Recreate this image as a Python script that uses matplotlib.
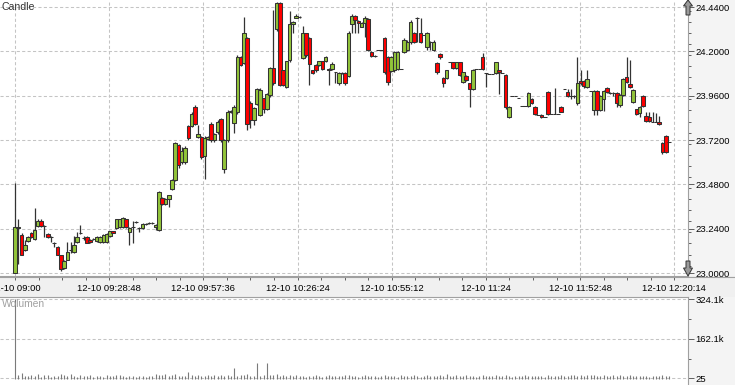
import matplotlib
matplotlib.use("Agg")
import matplotlib.pyplot as plt
import numpy as np
from matplotlib.patches import Polygon, Rectangle
from matplotlib.lines import Line2D
from matplotlib.ticker import FixedLocator, MultipleLocator, FormatStrFormatter

# one-minute candles from 12-10 09:00, open / high / low / close
opens = [
    23.000, 23.245, 23.206, 23.125, 23.173, 23.217, 23.185, 23.255, 23.280, 23.255,
    23.210, 23.195, 23.160, 23.140, 23.100, 23.030, 23.070, 23.125, 23.115, 23.168,
    23.217, 23.190, 23.195, 23.180, 23.185, 23.173, 23.170, 23.168, 23.168, 23.200,
    23.227, 23.245, 23.250, 23.250, 23.290, 23.222, 23.250, 23.275, 23.245, 23.245,
    23.265, 23.270, 23.270, 23.250, 23.233, 23.405, 23.375, 23.400, 23.455, 23.505,
    23.693, 23.600, 23.601, 23.796, 23.796, 23.899, 23.736, 23.736, 23.634, 23.725,
    23.807, 23.720, 23.763, 23.834, 23.563, 23.720, 23.870, 23.812, 23.872, 24.169,
    24.137, 24.272, 23.920, 23.828, 23.915, 23.855, 23.947, 23.888, 23.964, 24.110,
    24.321, 24.462, 24.099, 24.007, 24.153, 24.348, 24.381, 24.386, 24.164, 24.299,
    24.272, 24.099, 24.126, 24.126, 24.148, 24.148, 24.104, 24.104, 24.088, 24.029,
    24.083, 24.083, 24.067, 24.348, 24.391, 24.364, 24.332, 24.354, 24.375, 24.197,
    24.175, 24.207, 24.207, 24.272, 24.169, 24.094, 24.099, 24.104, 24.104, 24.197,
    24.207, 24.251, 24.299, 24.381, 24.299, 24.290, 24.224, 24.251, 24.207, 24.137,
    24.186, 24.056, 24.056, 24.142, 24.142, 24.110, 24.142, 24.034, 24.067, 24.029,
    23.996, 24.104, 24.104, 24.169, 24.083, 24.077, 24.077, 24.083, 24.099, 24.083,
    24.072, 23.845, 23.958, 23.958, 23.947, 23.904, 23.904, 23.904, 23.942, 23.899,
    23.855, 23.855, 23.845, 23.980, 23.861, 23.861, 23.861, 23.899, 23.996, 23.980,
    23.958, 23.958, 23.920, 24.039, 24.039, 24.007, 23.985, 23.882, 23.985, 23.882,
    23.942, 24.002, 23.975, 23.975, 23.975, 23.910, 23.964, 24.061, 24.023, 23.926,
    23.888, 23.866, 23.958, 23.850, 23.845, 23.818, 23.818, 23.818, 23.704, 23.742,
    23.709,
]
highs = [
    23.490, 23.290, 23.215, 23.180, 23.200, 23.220, 23.350, 23.290, 23.290, 23.260,
    23.215, 23.200, 23.170, 23.145, 23.100, 23.070, 23.170, 23.170, 23.200, 23.220,
    23.260, 23.200, 23.200, 23.185, 23.190, 23.200, 23.200, 23.210, 23.215, 23.230,
    23.230, 23.295, 23.295, 23.305, 23.295, 23.250, 23.280, 23.280, 23.250, 23.270,
    23.270, 23.275, 23.275, 23.265, 23.445, 23.410, 23.405, 23.425, 23.510, 23.710,
    23.700, 23.680, 23.690, 23.800, 23.870, 23.910, 23.800, 23.740, 23.740, 23.740,
    23.820, 23.760, 23.830, 23.840, 23.725, 23.880, 23.880, 23.910, 24.180, 24.175,
    24.386, 24.280, 23.930, 23.900, 24.000, 24.000, 23.950, 23.975, 24.115, 24.424,
    24.465, 24.465, 24.100, 24.150, 24.420, 24.365, 24.402, 24.390, 24.337, 24.300,
    24.280, 24.100, 24.130, 24.150, 24.150, 24.175, 24.110, 24.140, 24.090, 24.090,
    24.090, 24.090, 24.310, 24.400, 24.395, 24.370, 24.360, 24.390, 24.380, 24.200,
    24.180, 24.207, 24.207, 24.280, 24.175, 24.175, 24.200, 24.200, 24.104, 24.270,
    24.260, 24.370, 24.305, 24.385, 24.381, 24.290, 24.305, 24.255, 24.260, 24.140,
    24.190, 24.060, 24.100, 24.142, 24.145, 24.145, 24.145, 24.090, 24.070, 24.030,
    24.105, 24.104, 24.104, 24.191, 24.085, 24.077, 24.077, 24.145, 24.100, 24.083,
    24.080, 23.905, 23.958, 23.958, 23.947, 23.904, 23.904, 23.980, 23.945, 23.905,
    23.855, 23.860, 23.845, 23.985, 23.861, 24.002, 23.861, 23.905, 23.996, 23.998,
    23.996, 23.965, 24.169, 24.099, 24.045, 24.099, 23.985, 23.990, 23.990, 23.965,
    23.990, 24.005, 23.980, 23.980, 23.980, 23.970, 24.055, 24.169, 24.153, 23.995,
    23.890, 23.905, 23.965, 23.872, 23.872, 23.872, 23.866, 23.850, 23.710, 23.745,
    23.709,
]
lows = [
    23.000, 23.050, 23.100, 23.120, 23.170, 23.190, 23.180, 23.250, 23.250, 23.195,
    23.190, 23.170, 23.140, 23.100, 23.010, 23.020, 23.070, 23.110, 23.110, 23.165,
    23.210, 23.180, 23.160, 23.165, 23.180, 23.170, 23.165, 23.165, 23.165, 23.195,
    23.215, 23.240, 23.245, 23.245, 23.245, 23.150, 23.165, 23.270, 23.220, 23.240,
    23.260, 23.265, 23.265, 23.235, 23.230, 23.370, 23.370, 23.360, 23.449, 23.500,
    23.570, 23.590, 23.590, 23.720, 23.790, 23.800, 23.730, 23.620, 23.509, 23.720,
    23.710, 23.710, 23.750, 23.710, 23.541, 23.710, 23.865, 23.758, 23.860, 24.120,
    24.130, 23.774, 23.785, 23.801, 23.910, 23.850, 23.866, 23.880, 23.955, 24.020,
    24.310, 24.010, 24.010, 24.000, 24.140, 24.299, 24.380, 24.380, 24.160, 24.170,
    24.018, 24.080, 24.090, 24.120, 24.100, 24.140, 24.018, 24.100, 24.029, 24.020,
    24.080, 24.020, 24.060, 24.300, 24.300, 24.299, 24.330, 24.278, 24.200, 24.170,
    24.170, 24.207, 24.207, 24.080, 24.020, 24.090, 24.090, 24.100, 24.104, 24.190,
    24.200, 24.240, 24.245, 24.251, 24.245, 24.290, 24.207, 24.207, 24.200, 24.080,
    24.160, 24.007, 24.050, 24.142, 24.105, 24.105, 24.065, 24.030, 24.040, 23.899,
    23.990, 24.104, 24.104, 24.100, 24.007, 24.077, 24.077, 24.080, 23.970, 24.083,
    23.890, 23.840, 23.958, 23.958, 23.947, 23.904, 23.904, 23.900, 23.915, 23.855,
    23.855, 23.840, 23.845, 23.855, 23.861, 23.861, 23.861, 23.870, 23.996, 23.955,
    23.942, 23.950, 23.910, 24.020, 24.000, 24.000, 23.985, 23.855, 23.855, 23.875,
    23.877, 23.975, 23.970, 23.960, 23.899, 23.900, 23.960, 24.030, 24.000, 23.920,
    23.855, 23.845, 23.900, 23.820, 23.820, 23.818, 23.818, 23.800, 23.645, 23.650,
    23.709,
]
closes = [
    23.250, 23.250, 23.100, 23.152, 23.195, 23.195, 23.233, 23.280, 23.255, 23.255,
    23.195, 23.195, 23.160, 23.100, 23.020, 23.065, 23.115, 23.125, 23.152, 23.195,
    23.217, 23.190, 23.163, 23.168, 23.185, 23.195, 23.195, 23.205, 23.210, 23.227,
    23.217, 23.290, 23.290, 23.300, 23.250, 23.245, 23.250, 23.275, 23.245, 23.265,
    23.265, 23.270, 23.270, 23.260, 23.440, 23.375, 23.400, 23.420, 23.505, 23.705,
    23.585, 23.660, 23.677, 23.731, 23.861, 23.807, 23.753, 23.628, 23.731, 23.735,
    23.720, 23.753, 23.818, 23.720, 23.720, 23.872, 23.875, 23.899, 24.169, 24.126,
    24.299, 23.807, 23.828, 23.893, 23.996, 23.991, 23.888, 23.969, 24.110, 24.029,
    24.462, 24.018, 24.018, 24.148, 24.348, 24.359, 24.391, 24.386, 24.299, 24.180,
    24.132, 24.083, 24.099, 24.148, 24.104, 24.169, 24.100, 24.132, 24.088, 24.083,
    24.083, 24.029, 24.299, 24.391, 24.370, 24.354, 24.354, 24.381, 24.207, 24.175,
    24.175, 24.207, 24.207, 24.088, 24.034, 24.169, 24.197, 24.197, 24.104, 24.261,
    24.251, 24.359, 24.251, 24.381, 24.251, 24.290, 24.299, 24.251, 24.251, 24.088,
    24.169, 24.029, 24.099, 24.142, 24.110, 24.142, 24.072, 24.088, 24.045, 23.996,
    24.099, 24.104, 24.104, 24.104, 24.083, 24.077, 24.077, 24.142, 24.088, 24.083,
    23.899, 23.899, 23.958, 23.958, 23.947, 23.904, 23.904, 23.975, 23.920, 23.861,
    23.855, 23.845, 23.845, 23.861, 23.861, 23.861, 23.861, 23.872, 23.996, 23.958,
    23.958, 23.960, 24.029, 24.029, 24.012, 24.050, 23.985, 23.985, 23.882, 23.958,
    23.985, 23.980, 23.975, 23.975, 23.920, 23.964, 24.050, 24.034, 24.007, 23.991,
    23.861, 23.899, 23.904, 23.823, 23.823, 23.818, 23.818, 23.807, 23.655, 23.655,
    23.709,
]
volumes = [
    324100, 14000, 22000, 12000, 9000, 15000, 11000, 18000, 8000, 13000,
    16000, 7000, 12000, 9000, 17000, 14000, 10000, 19000, 12000, 8000,
    15000, 11000, 9000, 13000, 7000, 10000, 12000, 8000, 14000, 9000,
    11000, 16000, 13000, 10000, 8000, 12000, 9000, 7000, 11000, 10000,
    8000, 12000, 9000, 19000, 15000, 13000, 17000, 10000, 14000, 18000,
    12000, 11000, 9000, 28000, 13000, 10000, 15000, 12000, 9000, 14000,
    11000, 16000, 10000, 13000, 12000, 15000, 9000, 44000, 11000, 14000,
    13000, 17000, 10000, 12000, 64000, 11000, 15000, 64000, 13000, 16000,
    18000, 12000, 14000, 9000, 16000, 11000, 13000, 10000, 12000, 8000,
    11000, 9000, 13000, 10000, 8000, 12000, 14000, 9000, 11000, 10000,
    9000, 13000, 15000, 10000, 12000, 8000, 11000, 14000, 9000, 12000,
    10000, 7000, 11000, 13000, 9000, 12000, 10000, 8000, 14000, 11000,
    12000, 9000, 13000, 10000, 8000, 11000, 14000, 9000, 12000, 10000,
    13000, 11000, 18000, 9000, 12000, 14000, 10000, 11000, 13000, 9000,
    12000, 8000, 10000, 13000, 9000, 11000, 12000, 14000, 10000, 9000,
    15000, 12000, 8000, 11000, 10000, 9000, 13000, 12000, 10000, 11000,
    9000, 12000, 8000, 14000, 10000, 11000, 9000, 13000, 12000, 10000,
    15000, 16000, 11000, 13000, 12000, 14000, 15000, 13000, 11000, 12000,
    13000, 10000, 12000, 14000, 11000, 15000, 12000, 10000, 13000, 11000,
    12000, 9000, 10000, 12000, 8000, 11000, 9000, 12000, 14000, 10000,
    11000,
]

# minutes after 09:00 for the time axis labels
tick_minutes = [0, 28.8, 57.6, 86.4, 115.2, 144.0, 172.8, 201.6]
tick_labels = ["12-10 09:00", "12-10 09:28:48", "12-10 09:57:36", "12-10 10:26:24",
               "12-10 10:55:12", "12-10 11:24", "12-10 11:52:48", "12-10 12:20:14"]
price_ticks = [23.0, 23.24, 23.48, 23.72, 23.96, 24.2, 24.44]
vol_ticks = [25, 162062, 324100]
vol_labels = ["25", "162.1k", "324.1k"]

plt.rcParams["font.family"] = ["Liberation Sans", "DejaVu Sans"]

W, H = 735, 385
fig = plt.figure(figsize=(W / 100, H / 100), dpi=100, facecolor="#f4f4f4")


def fx(px):
    return px / W


def fy(py):
    return 1 - py / H


GRID = dict(color="#c4c4c4", linestyle=(0, (3, 2.2)), linewidth=0.75)
AXC = "#a0a0a0"

o = np.array(opens)
c = np.array(closes)
t = np.arange(len(o))
colors = np.where(c >= o, "#92c43a", "#ff0000")

ax = fig.add_axes([0, fy(276), fx(688), fy(0) - fy(276)])
ax.set_facecolor("white")
ax.vlines(t, lows, highs, color="#333333", linewidth=0.9, zorder=2)
ax.bar(t, c - o, bottom=o, width=1.1, color=colors, edgecolor="#333333",
       linewidth=0.75, zorder=3)
ax.set_xlim(-4.59, 205.8)
ax.set_ylim(22.984, 24.478)
ax.set_xticks(tick_minutes, tick_labels)
ax.xaxis.set_minor_locator(MultipleLocator(7.2))
ax.yaxis.tick_right()
ax.yaxis.set_major_locator(FixedLocator(price_ticks))
ax.yaxis.set_minor_locator(MultipleLocator(0.06))
ax.yaxis.set_major_formatter(FormatStrFormatter("%.4f"))
ax.tick_params(axis="both", which="both", colors="#606060", labelcolor="black",
               labelsize=6.8, width=0.7)
ax.tick_params(axis="x", which="major", length=3, pad=3)
ax.tick_params(axis="x", which="minor", length=3)
ax.tick_params(axis="y", which="major", length=4, pad=1.5)
ax.tick_params(axis="y", which="minor", length=2.5)
ax.grid(True, which="major", **GRID)
ax.set_axisbelow(True)
for s in ["top", "left"]:
    ax.spines[s].set_visible(False)
for s in ["right", "bottom"]:
    ax.spines[s].set_color(AXC)
    ax.spines[s].set_linewidth(0.8)
fig.text(fx(2), fy(2), "Candle", ha="left", va="top", fontsize=7.6, color="#333333")

axv = fig.add_axes([0, 0, fx(688), fy(297)])
axv.set_facecolor("white")
axv.vlines(t, 0, volumes, color="#7a7a7a", linewidth=0.8)
axv.set_xlim(-4.59, 205.8)
axv.set_ylim(-26473, 332253)
axv.set_xticks([])
axv.yaxis.tick_right()
axv.set_yticks(vol_ticks, vol_labels)
axv.yaxis.set_minor_locator(FixedLocator([81044, 243081]))
axv.tick_params(axis="y", which="both", colors="#606060", labelcolor="black",
                labelsize=6.8, width=0.7, pad=1.5)
axv.tick_params(axis="y", which="major", length=4)
axv.tick_params(axis="y", which="minor", length=2.5)
axv.yaxis.grid(True, which="major", **GRID)
axv.set_axisbelow(True)
for s in ["left", "bottom"]:
    axv.spines[s].set_visible(False)
for s in ["right", "top"]:
    axv.spines[s].set_color(AXC)
    axv.spines[s].set_linewidth(0.8)
fig.text(fx(2), fy(299), "Wolumen", ha="left", va="top", fontsize=7.4, color="#a0a0a0")

# gray time-label band and its border lines
fig.patches.append(Rectangle((0, fy(296.5)), 1, fy(276) - fy(296.5),
                             transform=fig.transFigure, facecolor="#f0f0f0",
                             edgecolor="none", zorder=-1))
fig.lines.append(Line2D([0, 1], [fy(276.5)] * 2, transform=fig.transFigure,
                        color=AXC, linewidth=0.8))

# scroll arrows on the price axis
up = [(688, 0), (683.5, 6), (686, 6), (686, 15), (690, 15), (690, 6), (692.5, 6)]
down = [(686, 261), (690, 261), (690, 268), (692.5, 268), (688, 276), (683.5, 268), (686, 268)]
for pts in (up, down):
    fig.patches.append(Polygon([(fx(x), fy(y)) for x, y in pts], closed=True,
                               transform=fig.transFigure, facecolor="#9a9a9a",
                               edgecolor="#333333", linewidth=0.7, zorder=5))

fig.savefig("out.png", dpi=100, facecolor=fig.get_facecolor())
